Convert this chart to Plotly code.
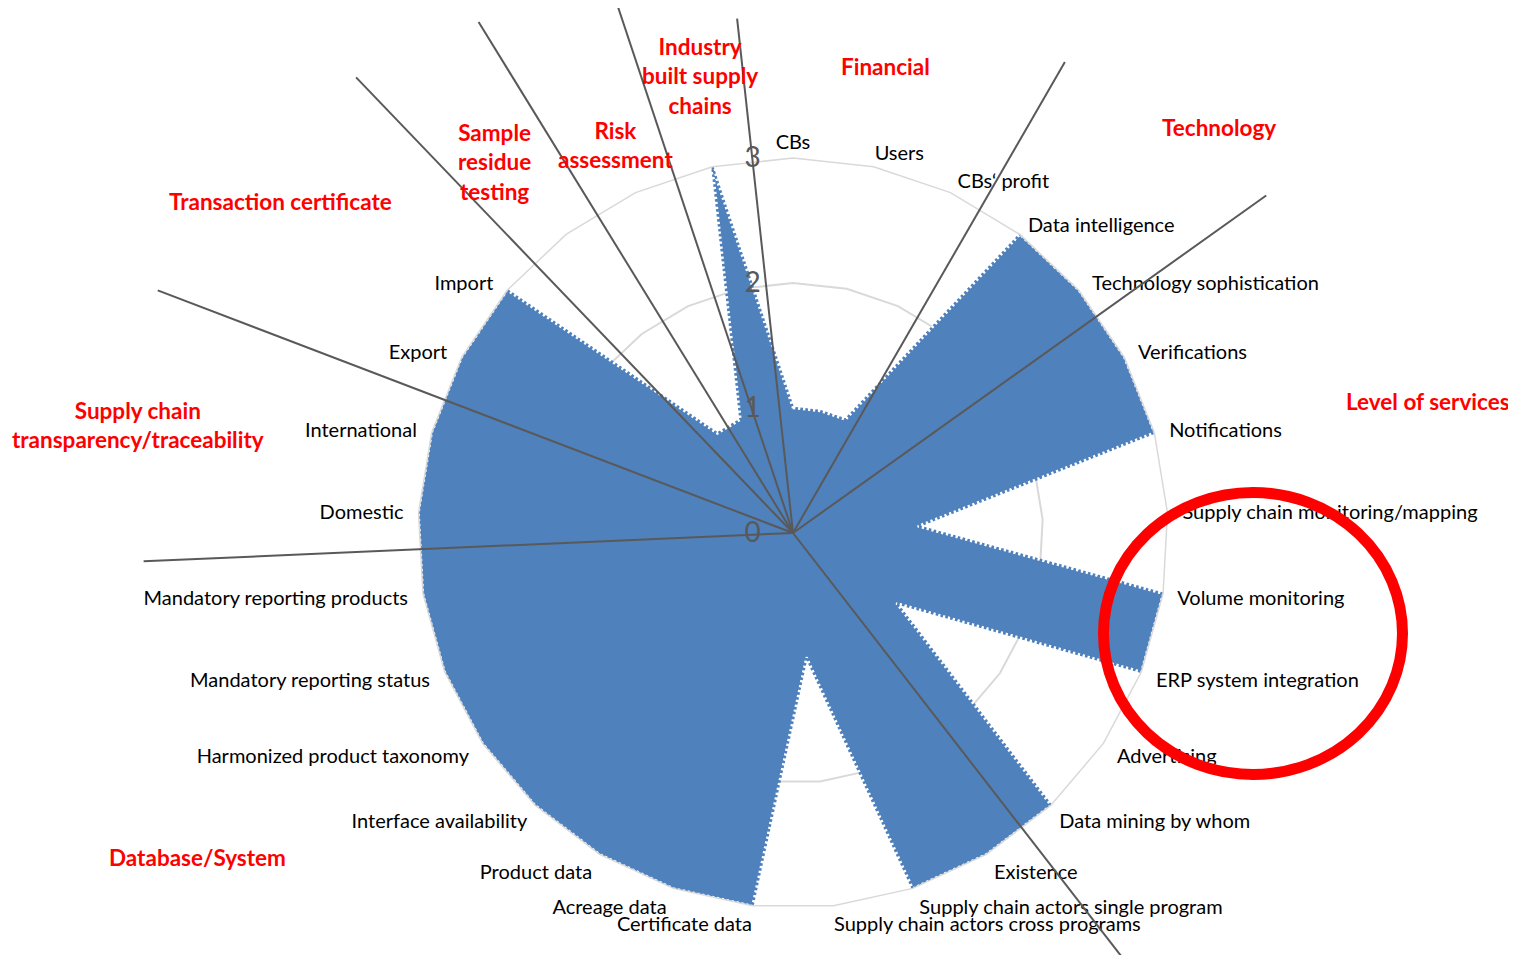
import math
import plotly.graph_objects as go

# ---------------- data ----------------
categories = [
    "CBs", "Users", "CBs‘ profit", "Data intelligence", "Technology sophistication",
    "Verifications", "Notifications", "Supply chain monitoring/mapping", "Volume monitoring",
    "ERP system integration", "Advertising", "Data mining by whom", "Existence",
    "Supply chain actors single program", "Supply chain actors cross programs",
    "Certificate data", "Acreage data", "Product data", "Interface availability",
    "Harmonized product taxonomy", "Mandatory reporting status", "Mandatory reporting products",
    "Domestic", "International", "Export", "Import",
    "Sample residue testing", "Risk assessment", "Industry built supply chains",
]
# categories whose axis label is replaced by a red group label
red_categories = ["Sample residue testing", "Risk assessment", "Industry built supply chains"]

values = [1, 1, 1, 3, 3, 3, 3, 1, 3, 3, 1, 3, 3, 3, 1,
          3, 3, 3, 3, 3, 3, 3, 3, 3, 3, 3, 1, 1, 3]

radial_ticks = [0, 1, 2, 3]

# group separator rays: angle (deg, clockwise from top) and length (radial units)
ray_angles = [353.8, 341.6, 328.4, 316.2, 290.9, 267.5, 142.2, 54.5, 30.0]
ray_lengths = [4.14, 4.6, 4.8, 5.05, 5.44, 5.2, 4.6, 4.65, 4.35]

group_labels = [
    "Industry<br>built supply<br>chains", "Financial", "Technology", "Level of services",
    "Supply chain<br>transparency/traceability", "Transaction certificate",
    "Sample<br>residue<br>testing", "Risk<br>assessment", "Database/System",
]

# ---------------- figure ----------------
W, H = 1516, 955
OFF = 8  # page margin of the html body
BLUE = "#4F81BD"


def px2x(px):
    return (px - OFF) / W


def py2y(py):
    return 1 - (py - OFF) / H


theta_closed = categories + categories[:1]
r_closed = values + values[:1]

fig = go.Figure()
fig.add_trace(go.Scatterpolar(
    r=r_closed, theta=theta_closed, mode="lines", fill="toself",
    fillcolor=BLUE, line=dict(color=BLUE, width=0), hoverinfo="skip", showlegend=False,
))
fig.add_trace(go.Scatterpolar(
    r=r_closed, theta=theta_closed, mode="lines",
    line=dict(color="white", width=2.5, dash="2.5px,2.5px"), hoverinfo="skip", showlegend=False,
))
fig.add_trace(go.Scatterpolar(
    r=r_closed, theta=theta_closed, mode="lines",
    line=dict(color=BLUE, width=2.5, dash="0px,2.5px,2.5px,0px"), hoverinfo="skip", showlegend=False,
))

# tick label text: blank for the red-labelled categories; side labels get a little
# extra horizontal standoff (non-breaking spaces) like the spreadsheet layout
N = len(categories)
ticktext = []
for i, c in enumerate(categories):
    if c in red_categories:
        ticktext.append("")
        continue
    s = math.sin(math.radians(i * 360 / N))
    n = int(round(11 * abs(s) / 5.3)) if abs(s) >= 0.1 else 0
    pad = "\u00a0" * n
    ticktext.append(pad + c if s > 0 else c + pad)

# polar placement (page pixels)
cx, cy, R = 793, 533, 375
RMAX = 3
dom_x = [px2x(cx - R), px2x(cx + R)]
dom_y = [py2y(cy + R), py2y(cy - R)]

fig.update_layout(
    width=W, height=H,
    margin=dict(l=0, r=0, t=0, b=0),
    paper_bgcolor="white",
    font=dict(family="Lato, sans-serif", color="#000000"),
    polar=dict(
        domain=dict(x=dom_x, y=dom_y),
        bgcolor="rgba(0,0,0,0)",
        gridshape="linear",
        angularaxis=dict(
            type="category", categoryorder="array", categoryarray=categories,
            rotation=90, direction="clockwise",
            tickmode="array", tickvals=categories, ticktext=ticktext,
            showgrid=False, showline=True, linecolor="#D9D9D9", linewidth=1.5,
            ticks="", tickfont=dict(size=20, color="#000000"),
        ),
        radialaxis=dict(
            range=[0, RMAX], tickmode="array", tickvals=radial_ticks,
            angle=90, side="counterclockwise", tickangle=90,
            showline=False, gridcolor="#D9D9D9", gridwidth=1.5,
            ticks="outside", ticklen=22, tickcolor="rgba(0,0,0,0)",
            tickfont=dict(size=28, color="#595959"),
        ),
    ),
)

# separator rays, scaled with the polar radius
unit = R / RMAX
for a, L in zip(ray_angles, ray_lengths):
    ex = cx + L * unit * math.sin(math.radians(a))
    ey = cy - L * unit * math.cos(math.radians(a))
    fig.add_shape(
        type="line", xref="paper", yref="paper",
        x0=px2x(cx), y0=py2y(cy), x1=px2x(ex), y1=py2y(ey),
        line=dict(color="#595959", width=2), layer="above",
    )

label_pos = [
    (700, 76), (885, 67), (1219, 127), (1428, 402), (138, 425),
    (280, 202), (494, 162), (615, 145), (197, 857),
]
for txt, (px, py) in zip(group_labels, label_pos):
    fig.add_annotation(
        x=px2x(px), y=py2y(py), xref="paper", yref="paper", text=f"<b>{txt}</b>",
        showarrow=False, xanchor="center", yanchor="middle", align="center",
        font=dict(size=22.5, color="#FF0000", family="Lato, sans-serif"),
    )

ecx, ecy, erx, ery = 1253, 633.5, 149.5, 141
fig.add_shape(
    type="circle", xref="paper", yref="paper",
    x0=px2x(ecx - erx), x1=px2x(ecx + erx),
    y0=py2y(ecy + ery), y1=py2y(ecy - ery),
    line=dict(color="#FF0000", width=11), layer="above",
)

fig.write_html("out.html")
